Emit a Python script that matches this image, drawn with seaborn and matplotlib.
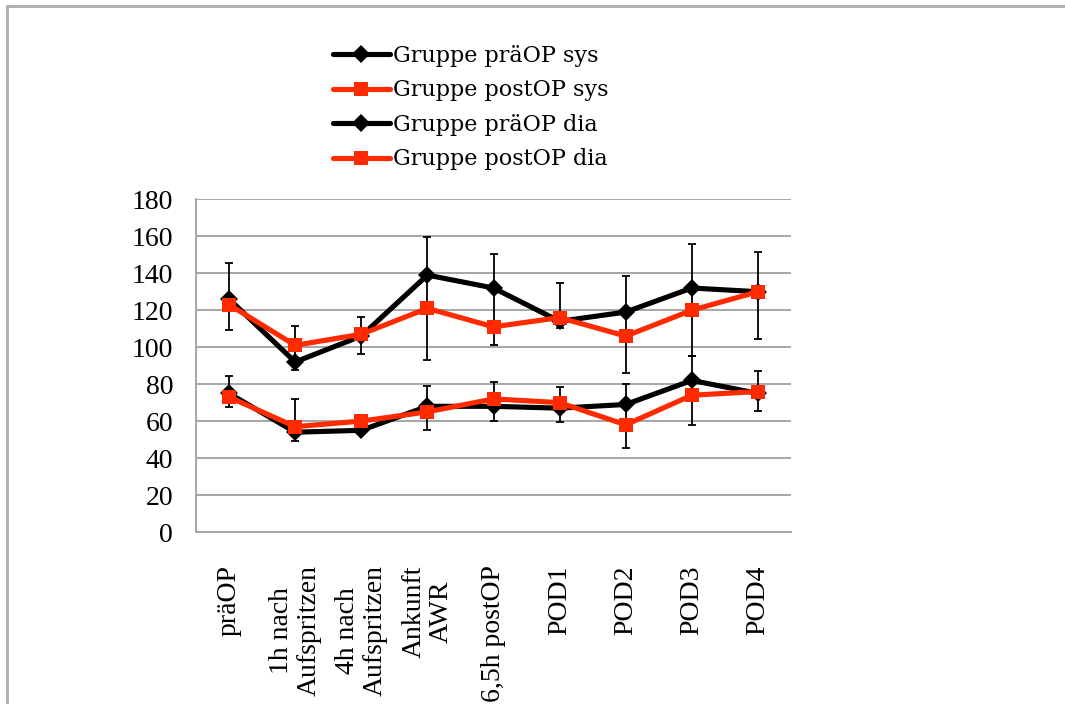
import numpy as np
import pandas as pd
import matplotlib
matplotlib.use("Agg")
import matplotlib.pyplot as plt
from matplotlib.lines import Line2D
import seaborn as sns

categories = ["präOP", "1h nach\nAufspritzen", "4h nach\nAufspritzen", "Ankunft\nAWR",
              "6,5h postOP", "POD1", "POD2", "POD3", "POD4"]
pre_sys = [126, 92, 106, 139, 132, 114, 119, 132, 130]
post_sys = [123, 101, 107, 121, 111, 116, 106, 120, 130]
pre_dia = [75, 54, 55, 68, 68, 67, 69, 82, 75]
post_dia = [73, 57, 60, 65, 72, 70, 58, 74, 76]
sys_err_low = [109.5, 87.5, 96.3, 93.3, 101.4, 110.4, 86, 95, 104.5]
sys_err_high = [145.7, 111.3, 116.4, 159.8, 150.6, 134.5, 138.4, 155.6, 151.4]
dia_err_low = [67.4, 49.3, np.nan, 55.3, 60.2, 59.3, 45.4, 58, 65.2]
dia_err_high = [84.6, 72.1, np.nan, 79.2, 81, 78.2, 80.1, 95, 86.9]
series_labels = ["Gruppe präOP sys", "Gruppe postOP sys", "Gruppe präOP dia", "Gruppe postOP dia"]
yticks = [0, 20, 40, 60, 80, 100, 120, 140, 160, 180]

sns.set_theme(style="white")
plt.rcParams["font.family"] = ["Liberation Serif", "DejaVu Serif"]
plt.rcParams["text.color"] = "black"

W, H = 1065, 704
fig = plt.figure(figsize=(W / 100, H / 100), dpi=100)
ax = fig.add_axes([196 / W, 1 - 532 / H, (791 - 196) / W, (532 - 199.3) / H])

x = np.arange(len(categories))
grid_c = "#a6a6a6"
black = "#000000"
red = "#ff2a00"

# error bars (behind lines)
def draw_err(center, low, high):
    c = np.array(center, float)
    lo = np.array(low, float)
    hi = np.array(high, float)
    ok = ~np.isnan(lo)
    ax.errorbar(x[ok], c[ok], yerr=[c[ok] - lo[ok], hi[ok] - c[ok]], fmt="none",
                ecolor="black", elinewidth=1.3, capsize=3.2, capthick=1.3, zorder=2)

draw_err(post_sys, sys_err_low, sys_err_high)
draw_err(post_dia, dia_err_low, dia_err_high)

styles = [
    (pre_sys, black, "D", 9.5),
    (post_sys, red, "s", 10.5),
    (pre_dia, black, "D", 9.5),
    (post_dia, red, "s", 10.5),
]
for i, ((vals, col, mk, ms), lab) in enumerate(zip(styles, series_labels)):
    df = pd.DataFrame({"x": x, "y": vals})
    sns.lineplot(data=df, x="x", y="y", ax=ax, color=col, linewidth=3.7,
                 marker=mk, markersize=ms, markeredgewidth=0, markerfacecolor=col,
                 label=lab, zorder=3 + (1 if col == red else 0), legend=False)

ax.set_xlim(-0.5, len(categories) - 0.5)
ax.set_ylim(0, 180)
ax.set_yticks(yticks)
ax.set_yticklabels([str(v) for v in yticks])
ax.yaxis.grid(True, color=grid_c, linewidth=1.4)
ax.xaxis.grid(False)
ax.set_axisbelow(True)
ax.set_xlabel("")
ax.set_ylabel("")

# x ticks at category boundaries, labels at centers
ax.set_xticks(np.arange(len(categories) + 1) - 0.5)
ax.set_xticklabels([])
ax.set_xticks(x, minor=True)
ax.set_xticklabels(categories, minor=True, rotation=90, ha="center", va="top",
                   multialignment="center", fontsize=20, linespacing=1.12, color="black")
ax.tick_params(axis="x", which="minor", length=0, pad=24, labelcolor="black")
ax.tick_params(axis="x", which="major", length=6, width=1.4, color=grid_c, direction="out")
ax.tick_params(axis="y", length=6.5, width=1.4, color=grid_c, direction="out", labelsize=20,
               pad=10, labelcolor="black")

for s in ["top", "right"]:
    ax.spines[s].set_visible(False)
for s in ["left", "bottom"]:
    ax.spines[s].set_color(grid_c)
    ax.spines[s].set_linewidth(1.4)

# legend
handles = [Line2D([0], [0], color=c, linewidth=3.7, marker=m, markersize=ms * 0.95,
                  markeredgewidth=0) for (_, c, m, ms) in styles]
leg = fig.legend(handles, series_labels, loc="upper left", bbox_to_anchor=(333 / W, 1 - 45 / H),
                 frameon=False, handlelength=2.55, handletextpad=0.13,
                 labelspacing=0.56, borderpad=0, borderaxespad=0,
                 prop={"family": ["DejaVu Serif"], "size": 16})
for t in leg.get_texts():
    t.set_color("black")

# outer frame (left and top edges)
fig.add_artist(Line2D([7 / W, 7 / W], [0, 1 - 6 / H], color="#adadad", linewidth=2,
                      transform=fig.transFigure))
fig.add_artist(Line2D([7 / W, 1], [1 - 6 / H, 1 - 6 / H], color="#adadad", linewidth=2,
                      transform=fig.transFigure))

fig.savefig("out.png", dpi=100, facecolor="white")
